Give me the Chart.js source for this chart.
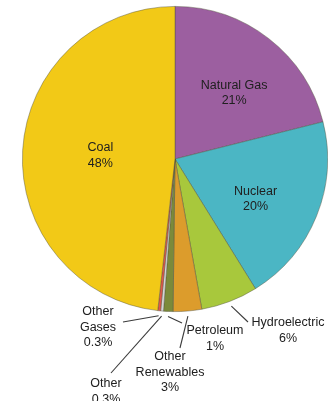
<!DOCTYPE html>
<html>
<head>
<meta charset="utf-8">
<script src="https://cdn.jsdelivr.net/npm/chart.js@4/dist/chart.umd.min.js"></script>
<style>
  html, body { margin: 0; padding: 0; background: #fff; }
  #wrap { width: 328px; height: 401px; }
</style>
</head>
<body>
<div id="wrap"><canvas id="c" width="328" height="401"></canvas></div>
<script>
// Electricity generation by source, share of total (%), clockwise from 12 o'clock
const categories = ['Natural Gas', 'Nuclear', 'Hydroelectric', 'Other Renewables', 'Petroleum', 'Other', 'Other Gases', 'Coal'];
const shares = [21, 20, 6, 3, 1, 0.3, 0.3, 48];
const nameLines = [['Natural Gas'], ['Nuclear'], ['Hydroelectric'], ['Other', 'Renewables'], ['Petroleum'], ['Other'], ['Other', 'Gases'], ['Coal']];
const sliceColors = ['#9c5fa0', '#4bb6c4', '#a8c83c', '#dc9c2c', '#7b8a3a', '#d4d4d4', '#e0584a', '#f2c917'];

const FONT = '12.5px "Liberation Sans", Arial, sans-serif';
const LINE_H = 15.5;

// Labels drawn inside their slice: fraction of radius and small angular nudge (degrees)
const insidePlacement = {
  0: { r: 0.58, da: 4 },
  1: { r: 0.59, da: 4.5 },
  7: { r: 0.49, da: -0.5 }
};
// Labels drawn outside with a leader line: text centre x, first line y, leader end point
const outsidePlacement = {
  2: { x: 288, y: 323, end: [248, 322] },
  3: { x: 170, y: 357, end: [180, 348] },
  4: { x: 215, y: 331, end: [182, 323] },
  5: { x: 106, y: 384, end: [111, 373] },
  6: { x: 98,  y: 312, end: [123, 322] }
};

const sliceLabels = {
  id: 'sliceLabels',
  afterDatasetsDraw(chart) {
    const ctx = chart.ctx;
    const arcs = chart.getDatasetMeta(0).data;
    ctx.save();
    ctx.font = FONT;
    ctx.fillStyle = '#202020';
    ctx.textAlign = 'center';
    ctx.textBaseline = 'middle';
    arcs.forEach((arc, i) => {
      const { x, y, startAngle, endAngle, outerRadius } =
        arc.getProps(['x', 'y', 'startAngle', 'endAngle', 'outerRadius'], true);
      const mid = (startAngle + endAngle) / 2;
      const lines = [...nameLines[i], shares[i] + '%'];
      if (insidePlacement[i]) {
        const p = insidePlacement[i];
        const a = mid + p.da * Math.PI / 180;
        const cx = x + Math.cos(a) * outerRadius * p.r;
        const cy = y + Math.sin(a) * outerRadius * p.r;
        lines.forEach((t, k) => ctx.fillText(t, cx, cy + (k - (lines.length - 1) / 2) * LINE_H));
      } else {
        const p = outsidePlacement[i];
        const sx = x + Math.cos(mid) * (outerRadius + 5);
        const sy = y + Math.sin(mid) * (outerRadius + 5);
        ctx.beginPath();
        ctx.moveTo(sx, sy);
        ctx.lineTo(p.end[0], p.end[1]);
        ctx.strokeStyle = '#3a3a3a';
        ctx.lineWidth = 1.1;
        ctx.stroke();
        lines.forEach((t, k) => ctx.fillText(t, p.x, p.y + k * LINE_H));
      }
    });
    ctx.restore();
  }
};

new Chart(document.getElementById('c'), {
  type: 'pie',
  data: {
    labels: categories,
    datasets: [{
      data: shares,
      backgroundColor: sliceColors,
      borderColor: 'rgba(80,80,60,0.55)',
      borderWidth: 0.8
    }]
  },
  options: {
    responsive: false,
    animation: false,
    layout: { padding: { left: 22, right: 0, top: 6, bottom: 89 } },
    plugins: { legend: { display: false }, tooltip: { enabled: false } }
  },
  plugins: [sliceLabels]
});
</script>
</body>
</html>
